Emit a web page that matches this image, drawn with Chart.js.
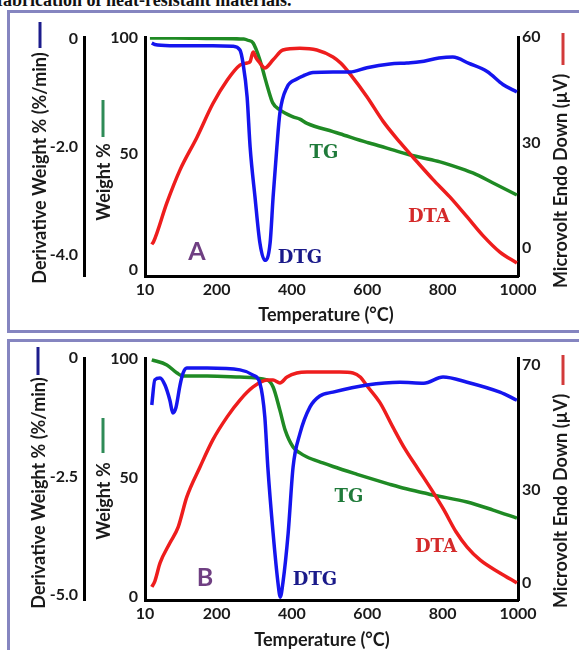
<!DOCTYPE html>
<html>
<head>
<meta charset="utf-8">
<script src="https://cdn.jsdelivr.net/npm/chart.js@4.4.1/dist/chart.umd.min.js"></script>
<style>
body{margin:0;width:579px;height:650px;overflow:hidden;background:#fff;position:relative}
.frame{position:absolute;left:7px;width:620px;border:3px solid #8585c0;box-sizing:border-box}
#fa{top:10px;height:323px}
#fb{top:339px;height:340px}
#cap{position:absolute;left:-3px;top:-10px;font:bold 18px "Liberation Serif",serif;color:#111;white-space:nowrap}
canvas{position:absolute;left:0}
#ca{top:0}
#cb{top:335px}
</style>
</head>
<body>
<div id="cap">fabrication of heat-resistant materials.</div>
<div class="frame" id="fa"></div>
<div class="frame" id="fb"></div>
<canvas id="ca" width="579" height="335"></canvas>
<canvas id="cb" width="579" height="315"></canvas>
<script>
// sample A
const tgTempA = [23, 90, 190, 272, 283, 297, 315, 328, 336, 349, 368, 403, 421, 440, 509, 527, 599, 615, 687, 705, 740, 793, 819, 880, 934, 997];
const tgA = [100, 100, 99.8, 99.5, 99, 97.8, 90.5, 83, 78.4, 72, 69, 66, 65, 63.2, 59.6, 58.7, 55, 54.3, 50.8, 50, 48.6, 46.6, 45.3, 41.8, 37.5, 32.3];
const dtgTempA = [28, 36, 76, 190, 243, 262, 270, 281, 289, 302, 315, 328, 342, 350, 360, 368, 387, 413, 430, 456, 509, 554, 599, 660, 705, 740, 790, 827, 870, 918, 960, 997];
const dtgA = [-0.07, -0.1, -0.12, -0.12, -0.13, -0.2, -0.44, -1.07, -2.0, -2.93, -3.78, -4.1, -3.78, -2.93, -2.0, -1.37, -0.89, -0.74, -0.68, -0.62, -0.61, -0.61, -0.53, -0.46, -0.44, -0.42, -0.35, -0.33, -0.45, -0.6, -0.84, -0.98];
const dtaTempA = [28, 33, 68, 103, 148, 190, 228, 262, 281, 289, 297, 305, 315, 328, 350, 376, 421, 466, 509, 530, 554, 599, 642, 687, 732, 774, 819, 865, 907, 952, 997];
const dtaA = [1.0, 1.8, 12.8, 22.2, 31.5, 41, 47.7, 52, 52.6, 53, 55.7, 54, 52.6, 51.2, 53.5, 56.3, 56.8, 56.3, 54.3, 52.5, 49.5, 43, 36, 30, 24.5, 19.5, 14.5, 8.8, 3.5, -1.2, -4.3];

// sample B
const tgTempB = [28, 68, 95, 111, 175, 262, 334, 350, 368, 382, 403, 421, 440, 482, 509, 573, 599, 660, 687, 748, 774, 865, 934, 997];
const tgB = [99.6, 97.5, 94.1, 92.8, 92.8, 92.4, 91.2, 88.2, 78.5, 70.1, 63, 60.5, 58.8, 56.3, 54.8, 51.5, 50.2, 47.3, 46.1, 43.8, 42.8, 39.9, 36.5, 33.1];
const dtgTempB = [28, 36, 50, 63, 76, 84, 92, 103, 111, 121, 175, 262, 297, 315, 328, 336, 350, 363, 369, 376, 390, 403, 421, 448, 474, 509, 599, 687, 750, 801, 865, 952, 997];
const dtgB = [-0.99, -0.46, -0.42, -0.57, -0.89, -1.16, -1.05, -0.57, -0.32, -0.21, -0.21, -0.25, -0.36, -0.53, -1.24, -2.3, -3.69, -4.74, -5.04, -4.74, -3.69, -2.3, -1.6, -1.03, -0.8, -0.72, -0.57, -0.51, -0.53, -0.4, -0.51, -0.72, -0.89];
const dtaTempB = [28, 36, 50, 76, 98, 121, 156, 190, 228, 262, 297, 334, 350, 368, 387, 413, 440, 527, 562, 582, 599, 634, 668, 700, 735, 770, 803, 835, 865, 900, 952, 997];
const dtaB = [-1.3, 0.5, 6.4, 12.8, 17.9, 27.6, 37.2, 45.9, 53.3, 58.7, 62.9, 65.1, 65.1, 64.2, 66.1, 67.4, 67.7, 67.7, 67.4, 66, 63.3, 57.8, 50, 43, 36.5, 30, 23.5, 16.5, 11.5, 7.3, 3.2, 0];

const tempTicks = [10, 200, 400, 600, 800, 1000];
const weightTicks = [0, 50, 100];
const dtgTicksA = [0, -2, -4];
const dtgTicksB = [0, -2.5, -5];
const dtaTicksA = [0, 30, 60];
const dtaTicksB = [0, 30, 70];

const tickFont = {family: 'Lato', size: 16, weight: 'bold'};
const titleFont = 'bold 18px Lato';
const inkColor = '#1a1a1a';

function pts(xs, ys) {
    return xs.map((x, i) => ({x: x, y: ys[i]}));
}

function fmtDer(v) {
    return v === 0 ? '0' : v.toFixed(1);
}

function yAxis(pos, wt, w, min, max, list, pad, fmt) {
    return {
        position: pos,
        weight: wt,
        min: min,
        max: max,
        afterBuildTicks: s => { s.ticks = list.map(v => ({value: v})); },
        afterFit: s => { s.width = w; },
        grid: {display: true, drawOnChartArea: false, drawTicks: false},
        border: {display: true, color: '#000', width: 3},
        ticks: {font: tickFont, color: inkColor, padding: pad, callback: fmt || (v => String(v))}
    };
}

const notesPlugin = {
    id: 'notes',
    afterDraw(chart, args, o) {
        const ctx = chart.ctx;
        ctx.save();
        ctx.textAlign = 'center';
        ctx.textBaseline = 'middle';
        o.titles.forEach(t => {
            ctx.save();
            ctx.translate(t.x, t.y);
            ctx.rotate(-Math.PI / 2);
            ctx.font = titleFont;
            ctx.fillStyle = inkColor;
            ctx.fillText(t.text, 0, 0);
            ctx.restore();
        });
        o.marks.forEach(m => {
            ctx.strokeStyle = m.color;
            ctx.lineWidth = 3;
            ctx.beginPath();
            ctx.moveTo(m.x, m.y1);
            ctx.lineTo(m.x, m.y2);
            ctx.stroke();
        });
        ctx.font = titleFont;
        ctx.fillStyle = inkColor;
        ctx.fillText('Temperature (°C)', o.xTitle.x, o.xTitle.y);
        ctx.font = 'bold 18px "DejaVu Serif"';
        o.labels.forEach(l => {
            ctx.fillStyle = l.color;
            ctx.fillText(l.text, l.x, l.y);
        });
        ctx.font = 'bold 25px Lato';
        ctx.fillStyle = '#6f3f82';
        ctx.fillText(o.tag.text, o.tag.x, o.tag.y);
        ctx.restore();
    }
};

function buildChart(id, p) {
    return new Chart(document.getElementById(id), {
        type: 'line',
        data: {
            datasets: [
                {label: 'DTG', data: pts(p.dtgT, p.dtg), yAxisID: 'yD', borderColor: '#1515ee', order: 0},
                {label: 'DTA', data: pts(p.dtaT, p.dta), yAxisID: 'yM', borderColor: '#ee1d1d', order: 1},
                {label: 'TG', data: pts(p.tgT, p.tg), yAxisID: 'yW', borderColor: '#1f8a24', order: 2}
            ]
        },
        options: {
            responsive: false,
            animation: false,
            layout: {padding: {top: p.padTop, bottom: p.padBottom, left: 0, right: 0}},
            elements: {
                point: {radius: 0},
                line: {borderWidth: 3.5, cubicInterpolationMode: 'monotone', fill: false}
            },
            plugins: {legend: {display: false}, tooltip: {enabled: false}, notes: p.notes},
            scales: {
                x: {
                    type: 'linear',
                    min: 10,
                    max: 1000,
                    afterBuildTicks: s => { s.ticks = tempTicks.map(v => ({value: v})); },
                    afterFit: s => { s.height = 50; },
                    grid: {display: true, drawOnChartArea: false, drawTicks: false},
                    border: {display: true, color: '#000', width: 3},
                    ticks: {font: tickFont, color: inkColor, padding: 4, maxRotation: 0, autoSkip: false, callback: v => String(v)}
                },
                yD: yAxis('left', 2, 84, p.dMin, p.dMax, p.dTicks, 6, fmtDer),
                yW: yAxis('left', 1, 61, p.wMin, p.wMax, weightTicks, 7),
                yM: yAxis('right', 1, 61, p.mMin, p.mMax, p.mTicks, 4)
            }
        },
        plugins: [notesPlugin]
    });
}

buildChart('ca', {
    tgT: tgTempA, tg: tgA, dtgT: dtgTempA, dtg: dtgA, dtaT: dtaTempA, dta: dtaA,
    padTop: 37, padBottom: 9,
    dMin: -4.39, dMax: 0.04, dTicks: dtgTicksA,
    wMin: -2.6, wMax: 100.4,
    mMin: -8, mMax: 60, mTicks: dtaTicksA,
    notes: {
        titles: [
            {text: 'Derivative Weight % (%/min)', x: 40, y: 168},
            {text: 'Weight %', x: 104, y: 182},
            {text: 'Microvolt Endo Down (µV)', x: 561, y: 181}
        ],
        marks: [
            {x: 40, y1: 22, y2: 48, color: '#1c1c8c'},
            {x: 103, y1: 100, y2: 137, color: '#2e8b57'},
            {x: 563, y1: 33, y2: 65, color: '#d23a3a'}
        ],
        xTitle: {x: 326, y: 315},
        labels: [
            {text: 'TG', x: 324, y: 153, color: '#1f7a3a'},
            {text: 'DTA', x: 429, y: 217, color: '#d42a2a'},
            {text: 'DTG', x: 300, y: 258, color: '#1a1a8a'}
        ],
        tag: {text: 'A', x: 197, y: 252}
    }
});

buildChart('cb', {
    tgT: tgTempB, tg: tgB, dtgT: dtgTempB, dtg: dtgB, dtaT: dtaTempB, dta: dtaB,
    padTop: 23, padBottom: 0,
    dMin: -5.1, dMax: 0, dTicks: dtgTicksB,
    wMin: -1.3, wMax: 100.4,
    mMin: -5.5, mMax: 72.2, mTicks: dtaTicksB,
    notes: {
        titles: [
            {text: 'Derivative Weight % (%/min)', x: 39, y: 158},
            {text: 'Weight %', x: 104, y: 166},
            {text: 'Microvolt Endo Down (µV)', x: 561, y: 166}
        ],
        marks: [
            {x: 38, y1: 12, y2: 40, color: '#1c1c8c'},
            {x: 103, y1: 83, y2: 118, color: '#2e8b57'},
            {x: 563, y1: 20, y2: 50, color: '#d23a3a'}
        ],
        xTitle: {x: 322, y: 305},
        labels: [
            {text: 'TG', x: 349, y: 162, color: '#1f7a3a'},
            {text: 'DTA', x: 436, y: 212, color: '#d42a2a'},
            {text: 'DTG', x: 315, y: 245, color: '#1a1a8a'}
        ],
        tag: {text: 'B', x: 205, y: 243}
    }
});
</script>
</body>
</html>
